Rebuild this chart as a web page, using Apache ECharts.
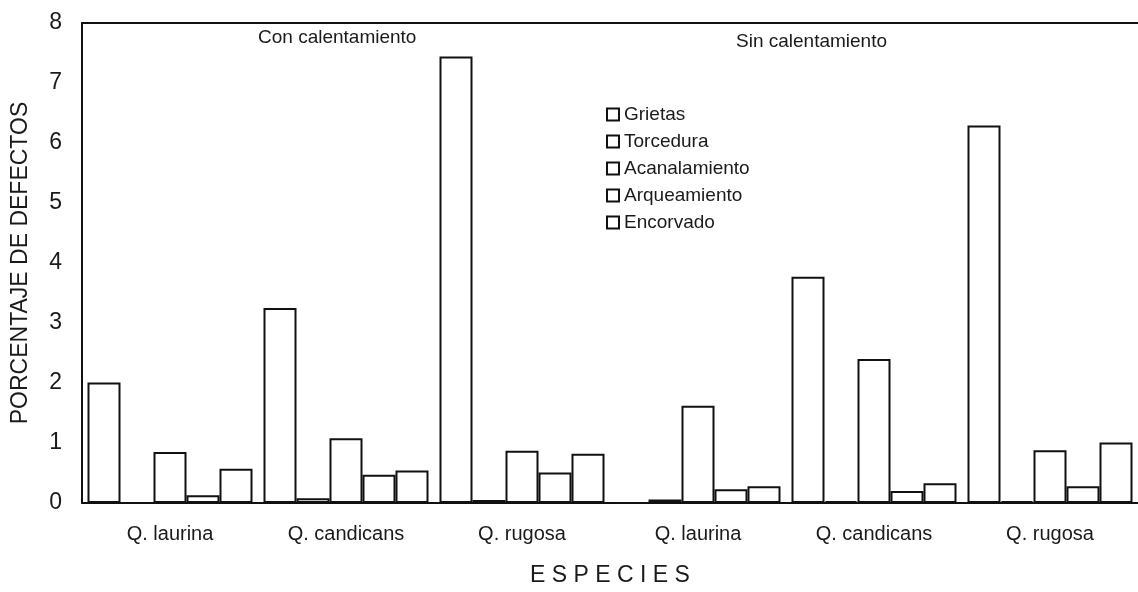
<!DOCTYPE html>
<html>
<head>
<meta charset="utf-8">
<script src="https://cdn.jsdelivr.net/npm/echarts@6/dist/echarts.min.js"></script>
<style>
    html, body { margin: 0; padding: 0; background: #fff; }
    #chart-box { width: 1138px; height: 592px; }
</style>
</head>
<body>
<div id="chart-box"></div>
<script>
// especies (las tres primeras con calentamiento, las tres ultimas sin calentamiento)
var categories = ['Q. laurina', 'Q. candicans', 'Q. rugosa', 'Q. laurina', 'Q. candicans', 'Q. rugosa'];
var seriesNames = ['Grietas', 'Torcedura', 'Acanalamiento', 'Arqueamiento', 'Encorvado'];

var grietas = [2.01, 3.25, 7.44, 0, 3.77, 6.29];
var torcedura = [0, 0.08, 0.05, 0.06, 0.03, 0.03];
var acanalamiento = [0.85, 1.08, 0.87, 1.62, 2.40, 0.88];
var arqueamiento = [0.13, 0.47, 0.51, 0.23, 0.20, 0.28];
var encorvado = [0.57, 0.54, 0.82, 0.28, 0.33, 1.01];

var seriesValues = [grietas, torcedura, acanalamiento, arqueamiento, encorvado];
var yTicks = [0, 1, 2, 3, 4, 5, 6, 7, 8];

var fontFamily = '"Liberation Sans", Arial, sans-serif';
var textColor = '#1a1a1a';

var series = [];
for (var i = 0; i < seriesNames.length; i++) {
    series.push({
        name: seriesNames[i],
        type: 'bar',
        data: seriesValues[i],
        barGap: '0%',
        barCategoryGap: '6.25%',
        itemStyle: {
            color: '#fff',
            borderColor: '#111',
            borderWidth: 2
        },
        emphasis: { disabled: true }
    });
}

var option = {
    animation: false,
    backgroundColor: '#fff',
    grid: {
        left: 82,
        right: 0,
        top: 23,
        bottom: 79
    },
    legend: {
        orient: 'vertical',
        left: 601,
        top: 100,
        itemWidth: 12,
        itemHeight: 12,
        itemGap: 8,
        icon: 'rect',
        textStyle: {
            fontFamily: fontFamily,
            fontSize: 19,
            color: textColor
        },
        data: seriesNames
    },
    graphic: [{
        type: 'text',
        left: 258,
        top: 28,
        style: {
            text: 'Con calentamiento',
            font: '19px ' + fontFamily,
            fill: textColor
        }
    }, {
        type: 'text',
        left: 736,
        top: 32,
        style: {
            text: 'Sin calentamiento',
            font: '19px ' + fontFamily,
            fill: textColor
        }
    }],
    xAxis: [{
        type: 'category',
        data: categories,
        position: 'bottom',
        axisLine: { show: true, lineStyle: { color: '#111', width: 2 } },
        axisTick: { show: false },
        axisLabel: {
            margin: 21,
            fontFamily: fontFamily,
            fontSize: 20,
            color: textColor
        },
        name: 'E S P E C I E S',
        nameLocation: 'middle',
        nameGap: 61,
        nameTextStyle: {
            fontFamily: fontFamily,
            fontSize: 23,
            color: textColor
        }
    }, {
        type: 'category',
        data: categories,
        position: 'top',
        axisLine: { show: true, lineStyle: { color: '#111', width: 2 } },
        axisTick: { show: false },
        axisLabel: { show: false }
    }],
    yAxis: {
        type: 'value',
        min: yTicks[0],
        max: yTicks[yTicks.length - 1],
        interval: 1,
        axisLine: { show: true, lineStyle: { color: '#111', width: 2 } },
        axisTick: { show: false },
        splitLine: { show: false },
        axisLabel: {
            margin: 20,
            fontFamily: fontFamily,
            fontSize: 23,
            color: textColor
        },
        name: 'PORCENTAJE DE DEFECTOS',
        nameLocation: 'middle',
        nameGap: 50,
        nameTextStyle: {
            fontFamily: fontFamily,
            fontSize: 23,
            color: textColor
        }
    },
    series: series
};

var myChart = echarts.init(document.getElementById('chart-box'));
myChart.setOption(option);
</script>
</body>
</html>
